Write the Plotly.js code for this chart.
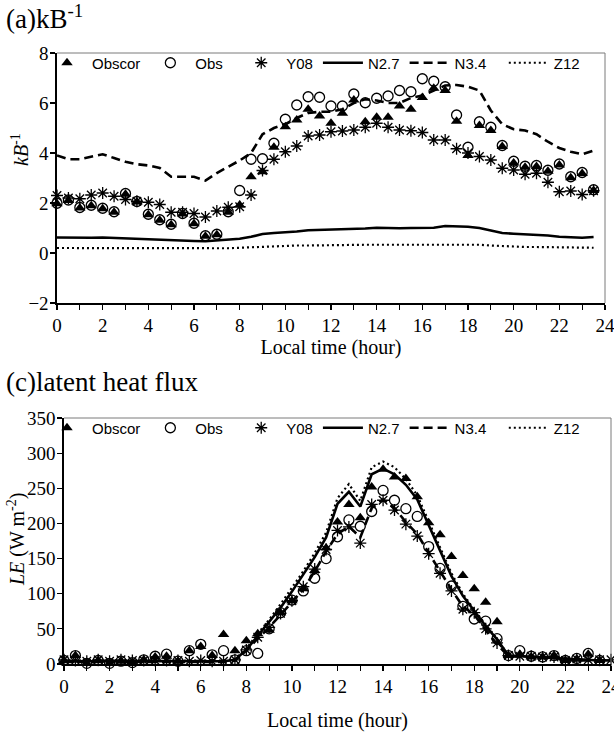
<!DOCTYPE html>
<html>
<head>
<meta charset="utf-8">
<script src="https://cdn.plot.ly/plotly-3.0.1.min.js"></script>
<style>
html,body{margin:0;padding:0;background:#fff;overflow:hidden;}
#chart{width:614px;height:732px;}
</style>
</head>
<body>
<div id="chart"></div>
<script>
// ---- data ----
const hours = [0,0.5,1,1.5,2,2.5,3,3.5,4,4.5,5,5.5,6,6.5,7,7.5,8,8.5,9,9.5,10,10.5,11,11.5,12,12.5,13,13.5,14,14.5,15,15.5,16,16.5,17,17.5,18,18.5,19,19.5,20,20.5,21,21.5,22,22.5,23,23.5];
const hours49 = [0,0.5,1,1.5,2,2.5,3,3.5,4,4.5,5,5.5,6,6.5,7,7.5,8,8.5,9,9.5,10,10.5,11,11.5,12,12.5,13,13.5,14,14.5,15,15.5,16,16.5,17,17.5,18,18.5,19,19.5,20,20.5,21,21.5,22,22.5,23,23.5,24];
const seriesNames = ['Obscor','Obs','Y08','N2.7','N3.4','Z12'];
const xTickVals = [0,2,4,6,8,10,12,14,16,18,20,22,24];

// (a) kB^-1
const obscorKB = [1.97,2.10,1.80,1.89,1.77,1.63,2.35,2.04,1.53,1.31,1.13,1.56,1.17,0.67,0.73,1.63,1.92,3.05,3.25,4.23,5.05,5.32,5.75,5.48,5.19,5.59,6.12,5.25,5.43,5.43,5.88,5.75,6.22,6.59,6.50,5.27,3.90,5.10,4.90,4.26,3.60,3.43,3.46,3.27,3.52,3.01,3.18,2.50];
const obsKB = [1.99,2.12,1.82,1.91,1.79,1.65,2.38,2.06,1.55,1.33,1.15,1.58,1.19,0.69,0.75,1.65,2.50,3.75,3.77,4.39,5.35,5.92,6.25,6.23,5.88,5.88,6.36,6.01,6.19,6.28,6.50,6.45,6.97,6.87,6.65,5.52,4.23,5.25,5.03,4.30,3.67,3.47,3.50,3.31,3.56,3.05,3.22,2.53];
const y08KB = [2.30,2.20,2.17,2.32,2.40,2.27,2.14,2.07,2.03,1.94,1.63,1.63,1.58,1.44,1.68,1.83,1.85,2.32,3.30,3.75,4.05,4.28,4.68,4.72,4.85,4.88,4.92,5.03,5.19,5.03,4.92,4.89,4.82,4.52,4.52,4.17,4.00,3.86,3.72,3.39,3.32,3.15,3.19,2.83,2.45,2.48,2.34,2.49];
const n27KB = [0.62,0.61,0.60,0.61,0.62,0.60,0.58,0.56,0.55,0.53,0.49,0.48,0.48,0.47,0.50,0.53,0.57,0.65,0.76,0.80,0.82,0.86,0.91,0.92,0.93,0.93,0.95,0.98,1.01,0.99,0.99,1.00,1.02,1.01,1.08,1.07,1.05,1.00,0.90,0.80,0.77,0.75,0.75,0.70,0.65,0.63,0.61,0.64];
const n34KB = [3.90,3.75,3.75,3.85,3.95,3.80,3.65,3.55,3.50,3.40,3.05,3.05,3.05,2.90,3.20,3.45,3.70,4.00,4.75,5.00,5.15,5.40,5.60,5.65,5.65,5.75,6.00,6.15,6.10,6.00,6.00,6.20,6.30,6.50,6.70,6.72,6.65,6.50,5.70,5.15,4.95,4.90,4.75,4.45,4.20,4.05,3.95,4.10];
const z12KB = [0.20,0.20,0.20,0.20,0.20,0.19,0.19,0.19,0.18,0.18,0.18,0.17,0.17,0.17,0.18,0.19,0.21,0.23,0.26,0.28,0.29,0.30,0.30,0.31,0.31,0.32,0.32,0.33,0.33,0.33,0.33,0.33,0.34,0.34,0.35,0.35,0.34,0.33,0.30,0.27,0.25,0.24,0.24,0.23,0.22,0.21,0.20,0.21];

// (c) latent heat flux (W m-2)
const obscorLE = [5,12,1,5,1,4,2,6,10,11,4,19,25,12,42,19,33,43,48,73,90,107,133,165,202,227,208,252,277,266,264,238,201,184,153,126,107,88,60,12,14,10,10,12,5,7,14,5];
const obsLE = [5,12,1,5,1,4,2,6,11,14,4,19,28,13,19,6,19,15,50,73,91,104,122,150,181,205,196,217,247,233,221,210,167,136,111,82,64,61,36,12,19,11,10,12,5,8,15,5];
const y08LE = [6,5,4,6,4,6,5,5,5,5,5,4,5,4,4,6,20,38,52,72,90,110,135,163,190,195,172,227,233,219,199,182,157,129,104,78,73,50,30,12,11,11,10,10,5,7,6,6,6];
const n27LE = [4,4,3,4,4,3,4,4,4,3,4,4,4,4,4,6,20,40,60,80,103,127,152,180,228,245,224,270,278,270,255,234,198,162,125,97,75,54,35,12,11,10,10,9,7,6,5,5,5];
const n34LE = [3,3,3,3,3,3,3,3,3,3,3,3,3,3,3,5,19,36,52,70,88,106,132,160,185,196,180,222,234,222,202,185,158,131,106,82,70,48,28,11,10,10,9,9,6,5,5,5,5];
const z12LE = [5,5,5,5,5,5,5,5,5,5,5,5,5,5,5,7,22,43,63,85,108,132,158,187,236,256,232,280,288,280,263,240,203,166,129,100,77,56,36,12,11,10,10,9,7,6,5,5,5];

// ---- styles ----
const BLACK = '#000000';
const NB = '\u00a0';
// trailing non-breaking spaces only widen legend entries to match the reference spacing
const legendPad = [0, 2, 0, 0, 3, 0];
const mk = {
  Obscor: {symbol:'triangle-up', size:10, color:BLACK},
  Obs: {symbol:'circle-open', size:10, color:BLACK, line:{width:1.3, color:BLACK}},
  Y08: {symbol:'asterisk-open', size:10, color:BLACK, line:{width:1.3, color:BLACK}}
};
const ln = {
  'N2.7': {color:BLACK, width:2.6, dash:'solid'},
  'N3.4': {color:BLACK, width:2.6, dash:'9px,5px'},
  'Z12': {color:BLACK, width:2.2, dash:'2px,3px'}
};
const nm = i => seriesNames[i] + NB.repeat(legendPad[i]);

function panel(xa, ya, leg, xObs, xLine, xY, obscor, obs, y08, n27, n34, z12) {
  return [
    {x:xObs, y:obscor, name:nm(0), type:'scatter', mode:'markers', marker:mk.Obscor, xaxis:xa, yaxis:ya, legend:leg, cliponaxis:false},
    {x:xObs, y:obs, name:nm(1), type:'scatter', mode:'markers', marker:mk.Obs, xaxis:xa, yaxis:ya, legend:leg, cliponaxis:false},
    {x:xY, y:y08, name:nm(2), type:'scatter', mode:'markers', marker:mk.Y08, xaxis:xa, yaxis:ya, legend:leg, cliponaxis:false},
    {x:xLine, y:n27, name:nm(3), type:'scatter', mode:'lines', line:ln['N2.7'], xaxis:xa, yaxis:ya, legend:leg},
    {x:xLine, y:n34, name:nm(4), type:'scatter', mode:'lines', line:ln['N3.4'], xaxis:xa, yaxis:ya, legend:leg},
    {x:xLine, y:z12, name:nm(5), type:'scatter', mode:'lines', line:ln['Z12'], xaxis:xa, yaxis:ya, legend:leg}
  ];
}

const traces = [].concat(
  panel('x','y','legend', hours, hours, hours, obscorKB, obsKB, y08KB, n27KB, n34KB, z12KB),
  panel('x2','y2','legend2', hours, hours49, hours49, obscorLE, obsLE, y08LE, n27LE, n34LE, z12LE)
);

const W = 614, H = 732;
const serif = 'Liberation Serif, Times New Roman, serif';
const sans = 'Liberation Sans, Arial, sans-serif';

function xAxis(dom, anchor, standoff) {
  return {
    domain: dom, anchor: anchor, range:[0,24], tickvals:xTickVals, ticks:'outside', ticklen:5, tickwidth:1.2, tickcolor:BLACK,
    showline:true, linecolor:BLACK, linewidth:1.6, showgrid:false, zeroline:false, fixedrange:true,
    tickfont:{family:serif, size:19, color:BLACK}, ticklabeloverflow:'allow',
    minor:{dtick:1, tick0:0, ticks:'outside', ticklen:5, tickwidth:1.2, tickcolor:BLACK, showgrid:false},
    title:{text:'Local time (hour)', font:{family:serif, size:20, color:BLACK}, standoff:standoff},
    automargin:false
  };
}
function yAxis(dom, anchor, range, dtick) {
  return {
    domain: dom, anchor: anchor, range:range, dtick:dtick, tick0:0, ticks:'outside', ticklen:5, tickwidth:1.2, tickcolor:BLACK,
    showline:true, linecolor:BLACK, linewidth:1.6, showgrid:false, zeroline:false, fixedrange:true,
    tickfont:{family:serif, size:19, color:BLACK}, ticklabelstandoff:-2,
    automargin:false
  };
}

const frame = (xr, yr) => [
  {type:'line', xref:xr+' domain', yref:yr+' domain', x0:0, x1:1, y0:1, y1:1, line:{color:'#7a7a7a', width:1}},
  {type:'line', xref:xr+' domain', yref:yr+' domain', x0:1, x1:1, y0:0, y1:1, line:{color:'#7a7a7a', width:1}}
];

const legendBase = {
  orientation:'h', xanchor:'left', yanchor:'middle', x:42/W,
  font:{family:sans, size:15, color:BLACK}, itemwidth:40, bgcolor:'rgba(0,0,0,0)',
  borderwidth:0, traceorder:'normal', itemclick:false, itemdoubleclick:false
};

const layout = {
  width:W, height:H, margin:{l:0, r:0, t:0, b:0},
  paper_bgcolor:'#ffffff', plot_bgcolor:'#ffffff',
  font:{family:serif, size:16, color:BLACK},
  showlegend:true,
  xaxis: xAxis([57/W, 605/W], 'y', 3),
  yaxis: yAxis([1-303/H, 1-53/H], 'x', [-2,8], 2),
  xaxis2: xAxis([64/W, 611/W], 'y2', 22),
  yaxis2: yAxis([1-664/H, 1-418/H], 'x2', [0,350], 50),
  legend: Object.assign({}, legendBase, {y:1-63/H}),
  legend2: Object.assign({}, legendBase, {y:1-428/H}),
  shapes: frame('x','y').concat(frame('x2','y2')),
  annotations:[
    {text:'(a)kB<sup>-1</sup>', xref:'paper', yref:'paper', x:4/W, y:1-17/H, xanchor:'left', yanchor:'middle', showarrow:false, font:{family:serif, size:27, color:BLACK}},
    {text:'(c)latent heat flux', xref:'paper', yref:'paper', x:4/W, y:1-382/H, xanchor:'left', yanchor:'middle', showarrow:false, font:{family:serif, size:27, color:BLACK}},
    {text:'<i>kB</i><sup>-1</sup>', xref:'paper', yref:'paper', x:20/W, y:1-150/H, xanchor:'center', yanchor:'middle', textangle:-90, showarrow:false, font:{family:serif, size:20, color:BLACK}},
    {text:'<i>LE</i> (W m<sup>-2</sup>)', xref:'paper', yref:'paper', x:16/W, y:1-540/H, xanchor:'center', yanchor:'middle', textangle:-90, showarrow:false, font:{family:serif, size:20, color:BLACK}}
  ]
};

Plotly.newPlot('chart', traces, layout, {staticPlot:true, displayModeBar:false});
</script>
</body>
</html>
